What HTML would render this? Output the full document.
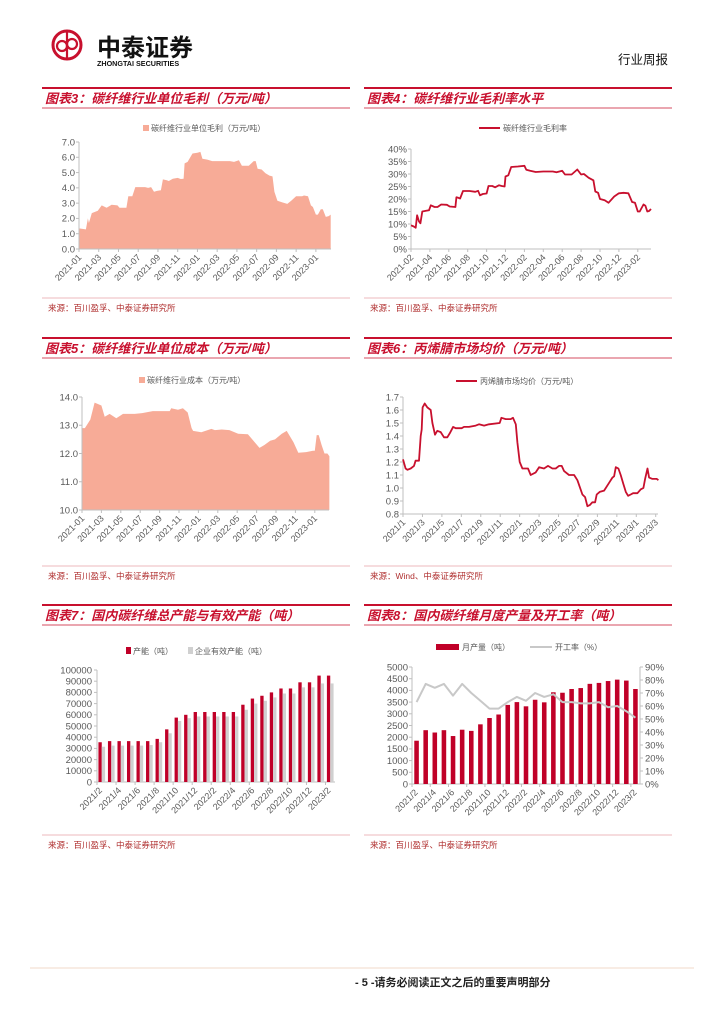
<!DOCTYPE html>
<html><head><meta charset="utf-8">
<style>
html,body{margin:0;padding:0;background:#fff;}
body{width:724px;height:1024px;position:relative;overflow:hidden;font-family:"Liberation Sans","Noto Sans CJK SC",sans-serif;}
svg text{font-family:"Liberation Sans","Noto Sans CJK SC",sans-serif;}
</style></head>
<body>
<svg id="pg" width="724" height="1024" viewBox="0 0 724 1024" xmlns="http://www.w3.org/2000/svg">
  <g>
    <circle cx="67" cy="45" r="14" fill="none" stroke="#c8102e" stroke-width="3"/>
    <circle cx="62" cy="46" r="5" fill="none" stroke="#c8102e" stroke-width="2.2"/>
    <circle cx="72" cy="44" r="5" fill="none" stroke="#c8102e" stroke-width="2.2"/>
    <line x1="67" y1="31" x2="67" y2="59" stroke="#c8102e" stroke-width="2.2"/>
    <text x="97" y="56" font-size="24" font-weight="bold" fill="#111">中泰证券</text>
    <text x="97" y="66" font-size="7.2" font-weight="bold" fill="#111">ZHONGTAI SECURITIES</text>
  </g>
  <text x="668" y="64" font-size="12.5" text-anchor="end" fill="#111">行业周报</text>
  <line x1="30" y1="968" x2="694" y2="968" stroke="#f0d8c8" stroke-width="1"/>
  <text x="355" y="986" font-size="11" font-weight="bold" fill="#222">- 5 -请务必阅读正文之后的重要声明部分</text>
  <g id="charts"></g>
</svg>
<script>
const c3Months=[0,0.7,0.9,1.0,1.3,1.9,2.3,2.8,3.3,3.9,4.1,4.8,5.0,5.4,5.7,6.7,7.0,7.3,7.6,7.9,8.3,8.5,8.9,9.1,9.5,10.0,10.3,10.6,10.7,11.0,11.5,12.0,12.3,12.5,13.0,13.5,14.5,15.3,15.7,16.2,16.5,17.2,17.7,17.9,18.1,18.5,18.9,19.3,19.6,19.8,20.1,20.6,21.1,21.5,22.0,22.6,22.8,23.2,23.5,23.7,24.0,24.2,24.5,24.7,25.0,25.3,25.5];
const c3Values=[1.35,1.28,2.0,1.7,2.35,2.5,2.85,2.7,2.9,2.85,2.7,2.7,3.45,3.45,4.05,4.05,4.0,4.05,3.75,3.8,3.85,4.55,4.5,4.45,4.6,4.65,4.58,4.6,5.6,5.7,6.25,6.3,6.35,5.9,5.85,5.75,5.75,5.75,5.7,5.8,5.45,5.45,5.75,5.75,5.25,5.2,4.95,4.8,4.75,3.75,3.15,3.05,2.95,3.15,3.45,3.45,3.5,3.45,2.85,2.75,2.25,2.25,2.6,2.6,2.1,2.15,2.25];
const c3YTicks=[0,1,2,3,4,5,6,7];
const c3XLabels=["2021-01","2021-03","2021-05","2021-07","2021-09","2021-11","2022-01","2022-03","2022-05","2022-07","2022-09","2022-11","2023-01"];
const c4Months=[0,0.3,0.5,0.65,0.85,1.0,1.2,1.6,1.9,2.1,2.5,2.8,3.2,3.8,4.1,4.7,4.8,5.0,5.2,5.5,6.2,6.8,7.1,7.3,7.6,8.0,8.2,8.6,8.9,9.3,9.6,9.9,10.0,10.3,10.6,11.3,12.0,12.2,12.6,13.2,14,15,15.4,16.0,16.3,17,17.6,18.0,18.3,18.8,19.3,19.5,19.8,20.0,20.5,20.9,21.5,22.0,22.5,23.0,23.4,23.7,24.0,24.2,24.6,24.8,25.0,25.2,25.4];
const c4Values=[9.5,9.0,8.5,13.5,11,10.3,15,15.3,15.5,17.5,16.8,16.8,17.8,17.7,17,16.8,20.7,20.5,20.2,23.2,23.2,22.9,23.3,21.5,22,22.2,25.2,25.2,24.7,25.5,25.2,25,29,29.5,32.8,33,33.3,31.7,31.3,30.8,31,31,30.7,31.3,29.8,29.8,31.8,29.8,30,28.5,27.5,23,22.5,20,19.5,18.5,21,22.3,22.5,22.3,18.8,18.5,15,15,17.8,17.3,15,15.2,16];
const c4YTicks=[0,5,10,15,20,25,30,35,40];
const c4XLabels=["2021-02","2021-04","2021-06","2021-08","2021-10","2021-12","2022-02","2022-04","2022-06","2022-08","2022-10","2022-12","2023-02"];
const c5Months=[0,0.3,0.86,1.3,2.0,2.34,2.85,3.54,4.23,5.43,6.2,7.3,9.04,9.2,9.9,10.4,10.9,11.3,11.45,12.3,13.34,13.7,14.4,15.2,16.1,17.1,17.8,18.3,18.8,19.4,19.9,20.6,21.1,21.8,22.3,23.1,23.8,24.0,24.2,24.4,24.7,25.0,25.3,25.5];
const c5Values=[12.9,12.9,13.2,13.8,13.7,13.3,13.4,13.25,13.4,13.4,13.43,13.5,13.5,13.6,13.55,13.6,13.45,12.9,12.8,12.75,12.87,12.83,12.85,12.83,12.7,12.68,12.4,12.2,12.3,12.45,12.5,12.7,12.8,12.4,12.03,12.05,12.1,12.1,12.65,12.65,12.3,12.0,12.0,11.9];
const c5YTicks=[10,11,12,13,14];
const c5XLabels=["2021-01","2021-03","2021-05","2021-07","2021-09","2021-11","2022-01","2022-03","2022-05","2022-07","2022-09","2022-11","2023-01"];
const c6Months=[0,.27,.45,.79,1.13,1.3,1.65,1.82,1.92,2.02,2.23,2.5,2.85,3.02,3.29,3.53,3.88,4.22,4.56,4.8,5.15,5.42,6.04,6.28,6.79,7.48,7.82,8.34,8.85,9.95,10.12,10.57,11.08,11.32,11.6,11.77,12.01,12.28,12.86,13.14,13.65,14.0,14.51,14.92,15.37,15.71,16.05,16.33,16.57,17.08,17.6,17.94,18.46,18.73,18.97,19.24,19.48,19.76,19.93,20.24,20.69,21.2,21.54,21.72,21.89,22.16,22.4,22.68,22.92,23.16,23.43,23.67,24.12,24.46,24.73,24.91,25.15,25.32,25.66,26.11,26.28];
const c6Values=[1.22,1.15,1.14,1.15,1.17,1.21,1.21,1.4,1.45,1.62,1.65,1.62,1.6,1.5,1.41,1.44,1.43,1.39,1.39,1.42,1.47,1.46,1.46,1.47,1.47,1.48,1.49,1.48,1.49,1.5,1.54,1.53,1.53,1.54,1.49,1.35,1.2,1.15,1.15,1.1,1.12,1.16,1.15,1.17,1.15,1.15,1.17,1.17,1.13,1.1,1.1,1.06,0.95,0.93,0.86,0.87,0.89,0.89,0.95,0.97,0.98,1.04,1.08,1.09,1.16,1.15,1.1,1.03,0.97,0.94,0.95,0.96,0.96,0.99,1.0,1.07,1.15,1.08,1.07,1.07,1.06];
const c6YTicks=[0.8,0.9,1.0,1.1,1.2,1.3,1.4,1.5,1.6,1.7];
const c6XLabels=["2021/1","2021/3","2021/5","2021/7","2021/9","2021/11","2022/1","2022/3","2022/5","2022/7","2022/9","2022/11","2023/1","2023/3"];
const c7Categories=["2021/2","2021/3","2021/4","2021/5","2021/6","2021/7","2021/8","2021/9","2021/10","2021/11","2021/12","2022/1","2022/2","2022/3","2022/4","2022/5","2022/6","2022/7","2022/8","2022/9","2022/10","2022/11","2022/12","2023/1","2023/2"];
const c7Capacity=[35500,36500,36500,36500,36500,36500,38500,47000,57500,60000,62500,62500,62500,62500,62500,69000,74500,77000,80000,83500,83500,89000,89000,95000,95000];
const c7Effective=[31500,32500,32500,32500,32500,33000,35500,43500,54500,57000,58500,58500,58500,58500,58500,64500,70000,72500,75500,79000,79000,84500,84500,88000,88000];
const c7YTicks=[0,10000,20000,30000,40000,50000,60000,70000,80000,90000,100000];
const c8Categories=c7Categories.slice();
const c8Output=[1850,2300,2200,2300,2050,2320,2270,2550,2820,2970,3380,3500,3320,3600,3490,3920,3900,4060,4100,4280,4320,4400,4460,4420,4060];
const c8Rate=[63,77,74,77,68,77,70,64,58,58,63,67,64,70,67,69,63,63,62,62,63,59,60,56,51];
const c8LeftTicks=[0,500,1000,1500,2000,2500,3000,3500,4000,4500,5000];
const c8RightTicks=[0,10,20,30,40,50,60,70,80,90];

const NS="http://www.w3.org/2000/svg";
const root=document.getElementById('charts');
const RED="#c8102e", AREA="#f7ab97", GRAY="#595959", AX="#bfbfbf";
function mk(tag,attrs,parent,txt){const e=document.createElementNS(NS,tag);for(const k in attrs)e.setAttribute(k,attrs[k]);if(txt!==undefined)e.textContent=txt;(parent||root).appendChild(e);return e;}

function panel(x0,x1,topY,botY,title,srcY,src,name){
  const g=mk('g',{});
  
  
  const l1=mk('line',{x1:x0,x2:x1,y1:topY,y2:topY,stroke:RED,'stroke-width':2},g);
  
  
  const t=mk('text',{x:x0+3,y:(topY+botY)/2+5,'font-size':13,'font-weight':'bold','font-style':'italic',fill:RED},g,title);
  
  
  const l2=mk('line',{x1:x0,x2:x1,y1:botY,y2:botY,stroke:RED,'stroke-width':0.8},g);
  
  
  const l3=mk('line',{x1:x0,x2:x1,y1:srcY,y2:srcY,stroke:"#e8a0a8",'stroke-width':0.8},g);
  
  
  const s=mk('text',{x:x0+6,y:srcY+13,'font-size':8.5,fill:"#b03030"},g,src);
  
  
  return g;
}

function yAxisLabels(g,ticks,ys,x,fmt,anchor){
  ticks.forEach(v=>{
    const t=mk('text',{x:x,y:ys(v)+3.3,'font-size':9.5,fill:GRAY,'text-anchor':anchor||'end'},g,fmt(v));
    
    
  });
}
function xRotLabel(g,x,y,txt){
  const t=mk('text',{x:x,y:y,'font-size':9,fill:GRAY,'text-anchor':'end',transform:`rotate(-45 ${x} ${y})`},g,txt);
  
  
}

function timeChart(o){
  const g=mk('g',{});
  
  
  const xs=m=>o.px0+m*o.ppm;
  const ys=v=>o.pyB-(v-o.ymin)/(o.ymax-o.ymin)*(o.pyB-o.pyT);
  let d="";
  o.months.forEach((m,i)=>{d+=(i?"L":"M")+xs(m).toFixed(1)+","+ys(o.values[i]).toFixed(1);});
  if(o.type==='area'){
    const last=o.months[o.months.length-1];
    const p=mk('path',{d:d+`L${xs(last)},${o.pyB}L${xs(0)},${o.pyB}Z`,fill:AREA},g);
    
    
  }
  const ax=mk('line',{x1:o.px0,x2:o.px0,y1:o.pyT,y2:o.pyB,stroke:AX,'stroke-width':1},g);
  
  
  const bx=mk('line',{x1:o.px0,x2:o.px1,y1:o.pyB,y2:o.pyB,stroke:AX,'stroke-width':1},g);
  
  
  o.yticks.forEach(v=>{mk('line',{x1:o.px0-3,x2:o.px0,y1:ys(v),y2:ys(v),stroke:AX},g);});
  yAxisLabels(g,o.yticks,ys,o.px0-4,o.fmt);
  o.xlabels.forEach((lb,i)=>{
    const x=xs(i*2);
    mk('line',{x1:x,x2:x,y1:o.pyB,y2:o.pyB+3,stroke:AX},g);
    xRotLabel(g,x+3,o.pyB+9,lb);
  });
  if(o.type==='line'){
    const p=mk('path',{d:d,fill:'none',stroke:RED,'stroke-width':1.8,'stroke-linejoin':'round'},g);
    
    
  }
  const lg=mk('g',{},g);
  
  
  if(o.type==='area') mk('rect',{x:o.lgx,y:o.lgy-6,width:6,height:6,fill:AREA},lg);
  else mk('line',{x1:o.lgx,x2:o.lgx+21,y1:o.lgy-3,y2:o.lgy-3,stroke:RED,'stroke-width':2},lg);
  mk('text',{x:o.lgx+(o.type==='area'?8:24),y:o.lgy,'font-size':8,fill:GRAY},lg,o.legend);
}

panel(42,350,88,108,"图表3：碳纤维行业单位毛利（万元/吨）",298,"来源：百川盈孚、中泰证券研究所","chart3");
timeChart({name:'unit-gross-profit-chart',type:'area',months:c3Months,values:c3Values,yticks:c3YTicks,xlabels:c3XLabels,
  px0:79,px1:331,ppm:9.87,pyT:142,pyB:249,ymin:0,ymax:7,fmt:v=>v.toFixed(1),lgx:143,lgy:131,legend:"碳纤维行业单位毛利（万元/吨）"});

panel(364,672,88,108,"图表4：碳纤维行业毛利率水平",298,"来源：百川盈孚、中泰证券研究所","chart4");
timeChart({name:'gross-margin-chart',type:'line',months:c4Months,values:c4Values,yticks:c4YTicks,xlabels:c4XLabels,
  px0:411,px1:651,ppm:9.45,pyT:149,pyB:249,ymin:0,ymax:40,fmt:v=>v+"%",lgx:479,lgy:131,legend:"碳纤维行业毛利率"});

panel(42,350,338,358,"图表5：碳纤维行业单位成本（万元/吨）",566,"来源：百川盈孚、中泰证券研究所","chart5");
timeChart({name:'unit-cost-chart',type:'area',months:c5Months,values:c5Values,yticks:c5YTicks,xlabels:c5XLabels,
  px0:82,px1:329,ppm:9.7,pyT:397,pyB:510,ymin:10,ymax:14,fmt:v=>v.toFixed(1),lgx:139,lgy:383,legend:"碳纤维行业成本（万元/吨）"});

panel(364,672,338,358,"图表6：丙烯腈市场均价（万元/吨）",566,"来源：Wind、中泰证券研究所","chart6");
timeChart({name:'acrylonitrile-price-chart',type:'line',months:c6Months,values:c6Values,yticks:c6YTicks,xlabels:c6XLabels,
  px0:403,px1:658,ppm:9.72,pyT:397,pyB:514,ymin:0.8,ymax:1.7,fmt:v=>v.toFixed(1),lgx:456,lgy:384,legend:"丙烯腈市场均价（万元/吨）"});

panel(42,350,605,625,"图表7：国内碳纤维总产能与有效产能（吨）",835,"来源：百川盈孚、中泰证券研究所","chart7");
(function(){
  const g=mk('g',{});
  
  
  const px0=97,px1=335,pyT=670,pyB=782,ymax=100000;
  const bw=(px1-px0)/c7Categories.length;
  const ys=v=>pyB-v/ymax*(pyB-pyT);
  mk('line',{x1:px0,x2:px0,y1:pyT,y2:pyB,stroke:AX},g);
  mk('line',{x1:px0,x2:px1,y1:pyB,y2:pyB,stroke:AX},g);
  c7YTicks.forEach(v=>mk('line',{x1:px0-3,x2:px0,y1:ys(v),y2:ys(v),stroke:AX},g));
  yAxisLabels(g,c7YTicks,ys,px0-5,v=>String(v));
  c7Categories.forEach((c,i)=>{
    const x=px0+i*bw;
    const r1=mk('rect',{x:x+bw*0.15,y:ys(c7Capacity[i]),width:bw*0.35,height:pyB-ys(c7Capacity[i]),fill:"#c00028"},g);
    
    
    const r2=mk('rect',{x:x+bw*0.5,y:ys(c7Effective[i]),width:bw*0.35,height:pyB-ys(c7Effective[i]),fill:"#d0d0d0"},g);
    
    
    if(i%2===0){mk('line',{x1:x,x2:x,y1:pyB,y2:pyB+3,stroke:AX},g);xRotLabel(g,x+bw*0.6,pyB+9,c);}
  });
  const l1=mk('g',{},g);
  
  
  mk('rect',{x:126,y:647,width:5,height:7,fill:"#c00028"},l1);
  mk('text',{x:133,y:654,'font-size':8,fill:GRAY},l1,"产能（吨）");
  const l2=mk('g',{},g);
  
  
  mk('rect',{x:188,y:647,width:5,height:7,fill:"#d0d0d0"},l2);
  mk('text',{x:195,y:654,'font-size':8,fill:GRAY},l2,"企业有效产能（吨）");
})();

panel(364,672,605,625,"图表8：国内碳纤维月度产量及开工率（吨）",835,"来源：百川盈孚、中泰证券研究所","chart8");
(function(){
  const g=mk('g',{});
  
  
  const px0=412,px1=640,pyT=667,pyB=784;
  const bw=(px1-px0)/c8Categories.length;
  const ys=v=>pyB-v/5000*(pyB-pyT);
  const yr=v=>pyB-v/90*(pyB-pyT);
  mk('line',{x1:px0,x2:px0,y1:pyT,y2:pyB,stroke:AX},g);
  mk('line',{x1:px1,x2:px1,y1:pyT,y2:pyB,stroke:AX},g);
  mk('line',{x1:px0,x2:px1,y1:pyB,y2:pyB,stroke:AX},g);
  c8LeftTicks.forEach(v=>mk('line',{x1:px0-3,x2:px0,y1:ys(v),y2:ys(v),stroke:AX},g));
  c8RightTicks.forEach(v=>mk('line',{x1:px1,x2:px1+3,y1:yr(v),y2:yr(v),stroke:AX},g));
  yAxisLabels(g,c8LeftTicks,ys,px0-4,v=>String(v));
  yAxisLabels(g,c8RightTicks,yr,px1+5,v=>v+"%",'start');
  let d="";
  c8Categories.forEach((c,i)=>{
    const x=px0+i*bw;
    const r=mk('rect',{x:x+bw*0.25,y:ys(c8Output[i]),width:bw*0.5,height:pyB-ys(c8Output[i]),fill:"#c00028"},g);
    
    
    d+=(i?"L":"M")+(x+bw/2).toFixed(1)+","+yr(c8Rate[i]).toFixed(1);
    if(i%2===0){mk('line',{x1:x,x2:x,y1:pyB,y2:pyB+3,stroke:AX},g);xRotLabel(g,x+bw*0.7,pyB+9,c);}
  });
  const p=mk('path',{d:d,fill:'none',stroke:"#c8c8c8",'stroke-width':2,'stroke-linejoin':'round'},g);
  
  
  const l1=mk('g',{},g);
  
  
  mk('rect',{x:436,y:644,width:23,height:6,fill:"#c00028"},l1);
  mk('text',{x:462,y:650,'font-size':8,fill:GRAY},l1,"月产量（吨）");
  const l2=mk('g',{},g);
  
  
  mk('line',{x1:530,x2:552,y1:647,y2:647,stroke:"#c8c8c8",'stroke-width':2},l2);
  mk('text',{x:555,y:650,'font-size':8,fill:GRAY},l2,"开工率（%）");
})();
</script>
</body></html>
